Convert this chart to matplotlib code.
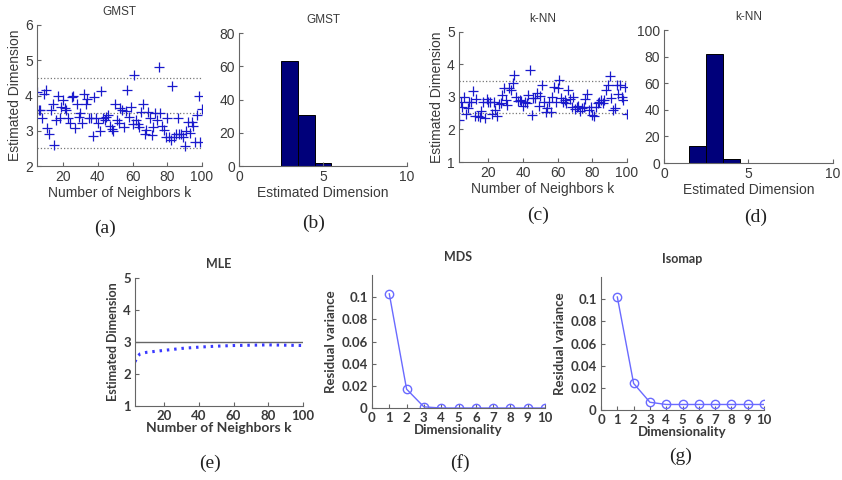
import numpy as np
import matplotlib.pyplot as plt

# ---- data ----
# (a) GMST estimate vs number of neighbours, k = 5..100
gmst_k = np.arange(5, 101)
gmst_est = [4.1, 3.6, 3.6, 3.37, 4.03, 4.15, 3.08, 2.9, 3.58, 3.75,
            2.6, 3.3, 4.0, 3.37, 3.68, 3.87, 3.65, 3.6, 3.37, 3.22,
            3.95, 4.0, 3.08, 3.75, 3.4, 3.5, 3.22, 4.03, 3.75, 3.9,
            3.37, 3.35, 2.85, 3.96, 3.37, 3.22, 3.0, 4.13, 3.35, 3.3,
            3.4, 3.45, 3.15, 3.05, 3.0, 3.75, 3.3, 3.23, 3.66, 3.6,
            3.1, 3.57, 4.15, 3.4, 3.68, 3.2, 4.58, 3.3, 3.2, 3.1,
            3.54, 3.75, 2.92, 3.03, 3.54, 3.35, 2.87, 3.1, 3.5, 3.32,
            4.8, 3.5, 3.15, 3.03, 2.82, 3.37, 2.82, 2.75, 4.26, 2.82,
            2.92, 3.35, 2.9, 2.92, 2.82, 2.56, 3.0, 3.25, 2.95, 3.25,
            3.15, 2.68, 3.45, 4.0, 2.68, 3.63]
gmst_bands = [2.5, 3.5, 4.5]

# (b) GMST histogram
gmst_bins = [3, 4, 5]
gmst_counts = [63, 31, 2]

# (c) k-NN estimate, k = 3..100
knn_k = np.arange(3, 101)
knn_est = [2.3, 2.83, 2.7, 3.0, 2.47, 2.65, 2.85, 2.85, 3.18, 2.4,
           2.93, 2.4, 2.38, 2.57, 2.85, 2.35, 2.93, 2.83, 2.85, 2.48,
           2.85, 2.6, 2.42, 2.78, 2.8, 3.06, 3.27, 2.9, 2.75, 3.27,
           3.21, 3.44, 3.67, 3.0, 2.87, 2.9, 2.88, 2.72, 2.83, 2.8,
           3.06, 3.83, 2.45, 2.98, 2.96, 3.13, 2.72, 3.03, 3.37, 2.86,
           2.55, 2.65, 2.83, 2.55, 3.0, 3.3, 2.86, 3.27, 3.52, 2.96,
           2.86, 2.9, 2.8, 3.21, 2.93, 2.68, 3.0, 2.62, 2.68, 2.72,
           2.58, 2.65, 2.68, 2.93, 3.1, 2.6, 2.68, 2.45, 2.4, 2.7,
           2.8, 2.86, 2.9, 2.8, 2.9, 3.21, 3.37, 3.64, 2.96, 2.6,
           2.65, 3.37, 3.1, 3.37, 3.0, 2.9, 3.3, 2.48]
knn_bands = [2.5, 3.5]

# (d) k-NN histogram
knn_bins = [2, 3, 4]
knn_counts = [13, 82, 3]

# (e) MLE
mle_k = [3, 4, 5, 6, 8, 10, 15, 20, 25, 30, 40, 50, 60, 70, 80, 90, 100]
mle_est = [2.38, 2.5, 2.58, 2.63, 2.66, 2.68, 2.71, 2.74, 2.77, 2.8,
           2.84, 2.87, 2.89, 2.9, 2.91, 2.9, 2.89]
true_dim = 3

# (f) MDS and (g) Isomap residual variance
dims = list(range(1, 11))
mds_resid = [0.103, 0.017, 0.001, 0, 0, 0, 0, 0, 0, 0]
iso_resid = [0.102, 0.024, 0.007, 0.005, 0.005, 0.005, 0.005, 0.005, 0.005, 0.005]

# ---- style ----
top_font = 'Liberation Sans'
bot_font = 'Lato'
txt = '#3a3a3a'
spine = '#666666'
blue = '#1a1acc'
light_blue = '#6a6aff'
navy = '#00007a'


def clean(ax, font, size, weight='normal'):
    for s in ('top', 'right'):
        ax.spines[s].set_visible(False)
    for s in ('left', 'bottom'):
        ax.spines[s].set_color(spine)
        ax.spines[s].set_linewidth(0.8)
    ax.tick_params(direction='in', length=3, color=spine, labelcolor=txt,
                   labelsize=size, pad=3)
    for lab in ax.get_xticklabels() + ax.get_yticklabels():
        lab.set_family(font)
        lab.set_fontweight(weight)


fig = plt.figure(figsize=(8.42, 4.8), dpi=100)

# (a)
ax = fig.add_axes([0.0439, 0.654, 0.196, 0.294])
for b in gmst_bands:
    ax.axhline(b, color='#777777', linestyle=':', linewidth=0.9)
ax.plot(gmst_k, gmst_est, '+', color=blue, markersize=7.5, markeredgewidth=0.9)
ax.set_xlim(5, 100)
ax.set_ylim(2, 6)
ax.set_xticks([20, 40, 60, 80, 100])
ax.set_yticks([2, 3, 4, 5, 6])
ax.set_title('GMST', family=top_font, fontsize=8.5, color=txt, pad=7)
ax.set_xlabel('Number of Neighbors k', family=top_font, fontsize=10, color=txt, labelpad=1)
ax.set_ylabel('Estimated Dimension', family=top_font, fontsize=10, color=txt, labelpad=2)
clean(ax, top_font, 10)

# (b)
ax = fig.add_axes([0.2838, 0.654, 0.1995, 0.277])
ax.bar(gmst_bins, gmst_counts, width=1.0, color=navy, edgecolor='black', linewidth=0.7)
ax.set_xlim(0, 10)
ax.set_ylim(0, 80)
ax.set_xticks([0, 5, 10])
ax.set_yticks([0, 20, 40, 60, 80])
ax.set_title('GMST', family=top_font, fontsize=8.5, color=txt, pad=7)
ax.set_xlabel('Estimated Dimension', family=top_font, fontsize=10, color=txt, labelpad=1)
clean(ax, top_font, 10)

# (c)
ax = fig.add_axes([0.5451, 0.6625, 0.1995, 0.271])
for b in knn_bands:
    ax.axhline(b, color='#777777', linestyle=':', linewidth=0.9)
ax.plot(knn_k, knn_est, '+', color=blue, markersize=7.5, markeredgewidth=0.9)
ax.set_xlim(3, 100)
ax.set_ylim(1, 5)
ax.set_xticks([20, 40, 60, 80, 100])
ax.set_yticks([1, 2, 3, 4, 5])
ax.set_title('k-NN', family=top_font, fontsize=8.5, color=txt, pad=7)
ax.set_xlabel('Number of Neighbors k', family=top_font, fontsize=10, color=txt, labelpad=1)
ax.set_ylabel('Estimated Dimension', family=top_font, fontsize=10, color=txt, labelpad=2)
clean(ax, top_font, 10)

# (d)
ax = fig.add_axes([0.7886, 0.6604, 0.2007, 0.277])
ax.bar(knn_bins, knn_counts, width=1.0, color=navy, edgecolor='black', linewidth=0.7)
ax.set_xlim(0, 10)
ax.set_ylim(0, 100)
ax.set_xticks([0, 5, 10])
ax.set_yticks([0, 20, 40, 60, 80, 100])
ax.set_title('k-NN', family=top_font, fontsize=8.5, color=txt, pad=7)
ax.set_xlabel('Estimated Dimension', family=top_font, fontsize=10, color=txt, labelpad=1)
clean(ax, top_font, 10)

# (e)
ax = fig.add_axes([0.1603, 0.154, 0.1995, 0.267])
ax.axhline(true_dim, color='#666666', linewidth=1.0)
ax.plot(mle_k, mle_est, linestyle=(0, (0.8, 1.6)), color='#3a3aff', linewidth=2.2)
ax.set_xlim(3, 100)
ax.set_ylim(1, 5)
ax.set_xticks([20, 40, 60, 80, 100])
ax.set_yticks([1, 2, 3, 4, 5])
ax.set_title('MLE', family=bot_font, fontsize=9, fontweight='bold', color=txt, pad=7)
ax.set_xlabel('Number of Neighbors k', family=bot_font, fontsize=10, fontweight='bold', color=txt, labelpad=0)
ax.set_ylabel('Estimated Dimension', family=bot_font, fontsize=9, fontweight='bold', color=txt, labelpad=3)
clean(ax, bot_font, 9.5, 'bold')

# (f)
ax = fig.add_axes([0.4418, 0.15, 0.2055, 0.277])
ax.plot(dims, mds_resid, '-o', color=light_blue, markerfacecolor='none',
        markersize=6, linewidth=1.0)
ax.set_xlim(0, 10)
ax.set_ylim(0, 0.12)
ax.set_xticks(range(0, 11))
ax.set_yticks([0, 0.02, 0.04, 0.06, 0.08, 0.1])
ax.set_yticklabels(['0', '0.02', '0.04', '0.06', '0.08', '0.1'])
ax.set_title('MDS', family=bot_font, fontsize=9, fontweight='bold', color=txt, pad=10)
ax.set_xlabel('Dimensionality', family=bot_font, fontsize=9.5, fontweight='bold', color=txt, labelpad=0)
ax.set_ylabel('Residual variance', family=bot_font, fontsize=9.5, fontweight='bold', color=txt, labelpad=3)
clean(ax, bot_font, 9.5, 'bold')

# (g)
ax = fig.add_axes([0.7138, 0.1458, 0.1936, 0.277])
ax.plot(dims, iso_resid, '-o', color=light_blue, markerfacecolor='none',
        markersize=6, linewidth=1.0)
ax.set_xlim(0, 10)
ax.set_ylim(0, 0.12)
ax.set_xticks(range(0, 11))
ax.set_yticks([0, 0.02, 0.04, 0.06, 0.08, 0.1])
ax.set_yticklabels(['0', '0.02', '0.04', '0.06', '0.08', '0.1'])
ax.set_title('Isomap', family=bot_font, fontsize=9, fontweight='bold', color=txt, pad=10)
ax.set_xlabel('Dimensionality', family=bot_font, fontsize=9.5, fontweight='bold', color=txt, labelpad=0)
ax.set_ylabel('Residual variance', family=bot_font, fontsize=9.5, fontweight='bold', color=txt, labelpad=3)
clean(ax, bot_font, 9.5, 'bold')

# panel letters
letters = ['(a)', '(b)', '(c)', '(d)', '(e)', '(f)', '(g)']
letter_pos = [(0.125, 0.525), (0.372, 0.535), (0.639, 0.552), (0.897, 0.548),
              (0.250, 0.035), (0.546, 0.035), (0.808, 0.05)]
for lab, (x, y) in zip(letters, letter_pos):
    fig.text(x, y, lab, family='Liberation Serif', fontsize=14, color='#222222',
             ha='center', va='center')

fig.savefig('out.png', dpi=100)
